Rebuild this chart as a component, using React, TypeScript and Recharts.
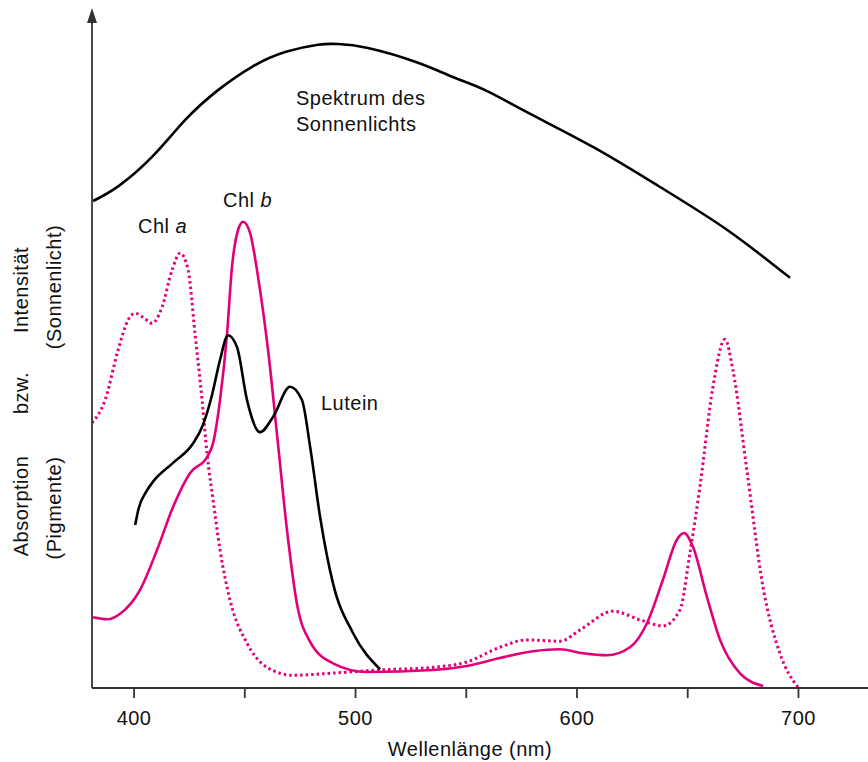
import { LineChart, Line, XAxis, YAxis, Customized } from 'recharts';

// wavelength (nm) and relative value (0-100) for each curve
const sunWl = [381.5, 392.8, 408.1, 423, 437.9, 453.3, 468.2, 483.1, 492.1, 505.6, 528.2, 543.6, 558.5, 577.4, 607.2, 637.5, 667.7, 696.2];
const sunVal = [72.9, 75.1, 79.5, 85.0, 89.5, 93.0, 95.2, 96.3, 96.4, 95.8, 93.6, 91.5, 89.5, 86.2, 81.0, 75.0, 68.6, 61.4];

const chlAWl = [381, 386.9, 392.8, 397.3, 400.5, 404.1, 408.1, 412.6, 417.2, 420.8, 424.4, 427.5, 430.7, 433, 435.7, 438.8, 443.3, 451, 460, 471.8, 488.5, 511.1, 535, 550.3, 565.2, 577.4, 592.3, 601.4, 616.3, 628.4, 638.8, 646.5, 651, 655.5, 661.4, 666.8, 670.4, 676.7, 684, 691.6, 699.8];
const chlAVal = [39.7, 43.1, 50.6, 55.1, 56.1, 55.5, 54.6, 57.0, 62.6, 65.1, 62.6, 53.1, 43.1, 34.9, 28.1, 20.7, 13.2, 6.7, 3.1, 1.9, 2.2, 2.7, 3.1, 3.9, 6.1, 7.2, 7.0, 8.7, 11.5, 10.2, 9.3, 11.7, 20.2, 30.1, 45.1, 52.2, 47.6, 32.6, 15.1, 5.2, 0.1];

const chlBWl = [381.5, 388, 394, 402.7, 410.4, 417.6, 425.3, 433, 435.7, 438.8, 442, 444.2, 447, 449.2, 452.4, 456, 460.5, 465, 469.1, 473.6, 479.5, 489.8, 505.2, 535, 550.3, 565.2, 580.1, 592.3, 602.7, 613.5, 623.9, 631.6, 638.8, 645.1, 648.3, 652.4, 658.7, 664.6, 673.6, 684];
const chlBVal = [10.6, 10.3, 11.2, 14.7, 20.7, 27.1, 32.2, 34.6, 36.7, 43.1, 53.1, 63.0, 68.6, 69.8, 68.1, 61.5, 50.6, 36.5, 23.5, 12.5, 6.9, 3.7, 2.4, 2.7, 3.3, 4.5, 5.5, 5.8, 5.2, 4.9, 6.1, 9.7, 16.2, 22.2, 23.2, 21.1, 13.6, 7.2, 2.2, 0.3];

const luteinWl = [400.5, 402, 405.3, 408.6, 417.6, 426.6, 431, 435, 438.8, 442.4, 446.5, 451, 456.9, 462.8, 470.4, 475.8, 479.5, 484, 489.8, 498.9, 511.1];
const luteinVal = [24.4, 26.8, 29.3, 30.9, 33.7, 36.6, 39.3, 43.6, 49.1, 52.8, 51.0, 43.1, 38.3, 40.6, 45.1, 43.1, 36.1, 25.6, 15.7, 8.2, 2.8];

const xTicks = [400, 450, 500, 550, 600, 650, 700];

const toRows = (wl: number[], val: number[]) => wl.map((w, i) => ({ wl: w, v: val[i] }));

const MAGENTA = '#e2007a';
const AXIS = '#333';
const FONT = 'Liberation Sans, Arial, Helvetica, sans-serif';

function Overlay() {
  const t = { fontFamily: FONT, fontSize: 20, letterSpacing: 0.5, fill: '#111' };
  return (
    <g>
      {/* y axis arrow head */}
      <polygon points="92,8 87,23 97,23" fill={AXIS} />
      <line x1={92} y1={20} x2={92} y2={24} stroke={AXIS} strokeWidth={1.8} />

      <text x={296} y={105} {...t}>Spektrum des</text>
      <text x={296} y={131} {...t}>Sonnenlichts</text>
      <text x={138} y={233} {...t}>Chl <tspan fontStyle="italic">a</tspan></text>
      <text x={223} y={207} {...t}>Chl <tspan fontStyle="italic">b</tspan></text>
      <text x={321} y={410} {...t}>Lutein</text>

      <text x={470} y={756} textAnchor="middle" {...t}>Wellenlänge (nm)</text>

      <text transform="translate(28,290) rotate(-90)" textAnchor="middle" {...t}>Intensität</text>
      <text transform="translate(28,393) rotate(-90)" textAnchor="middle" {...t}>bzw.</text>
      <text transform="translate(28,506) rotate(-90)" textAnchor="middle" {...t}>Absorption</text>
      <text transform="translate(61,287) rotate(-90)" textAnchor="middle" {...t}>(Sonnenlicht)</text>
      <text transform="translate(61,508) rotate(-90)" textAnchor="middle" {...t}>(Pigmente)</text>
    </g>
  );
}

export default function App() {
  return (
    <div style={{ position: 'absolute', left: 0, top: 0, width: 868, height: 762, background: '#fff' }}>
      <LineChart width={868} height={762} margin={{ top: 20, right: 0, bottom: 0, left: 80 }}>
        <XAxis
          dataKey="wl"
          type="number"
          domain={[381, 731.4]}
          allowDataOverflow
          ticks={xTicks}
          tickFormatter={(v: number) => (v % 100 === 0 ? String(v) : '')}
          height={74}
          tickSize={10}
          tickMargin={13}
          stroke={AXIS}
          strokeWidth={1.8}
          tick={{ fontFamily: FONT, fontSize: 20, fill: '#111', letterSpacing: 0.5 }}
        />
        <YAxis
          type="number"
          domain={[0, 100]}
          width={12}
          tick={false}
          tickLine={false}
          axisLine={{ stroke: AXIS, strokeWidth: 1.8 }}
        />
        <Line data={toRows(sunWl, sunVal)} dataKey="v" type="natural" stroke="#000" strokeWidth={2.6} dot={false} activeDot={false} isAnimationActive={false} />
        <Line data={toRows(chlAWl, chlAVal)} dataKey="v" type="monotone" stroke={MAGENTA} strokeWidth={3} strokeDasharray="2.5 3" dot={false} activeDot={false} isAnimationActive={false} />
        <Line data={toRows(chlBWl, chlBVal)} dataKey="v" type="monotone" stroke={MAGENTA} strokeWidth={2.6} dot={false} activeDot={false} isAnimationActive={false} />
        <Line data={toRows(luteinWl, luteinVal)} dataKey="v" type="monotone" stroke="#000" strokeWidth={2.6} dot={false} activeDot={false} isAnimationActive={false} />
        <Customized component={Overlay} />
      </LineChart>
    </div>
  );
}
